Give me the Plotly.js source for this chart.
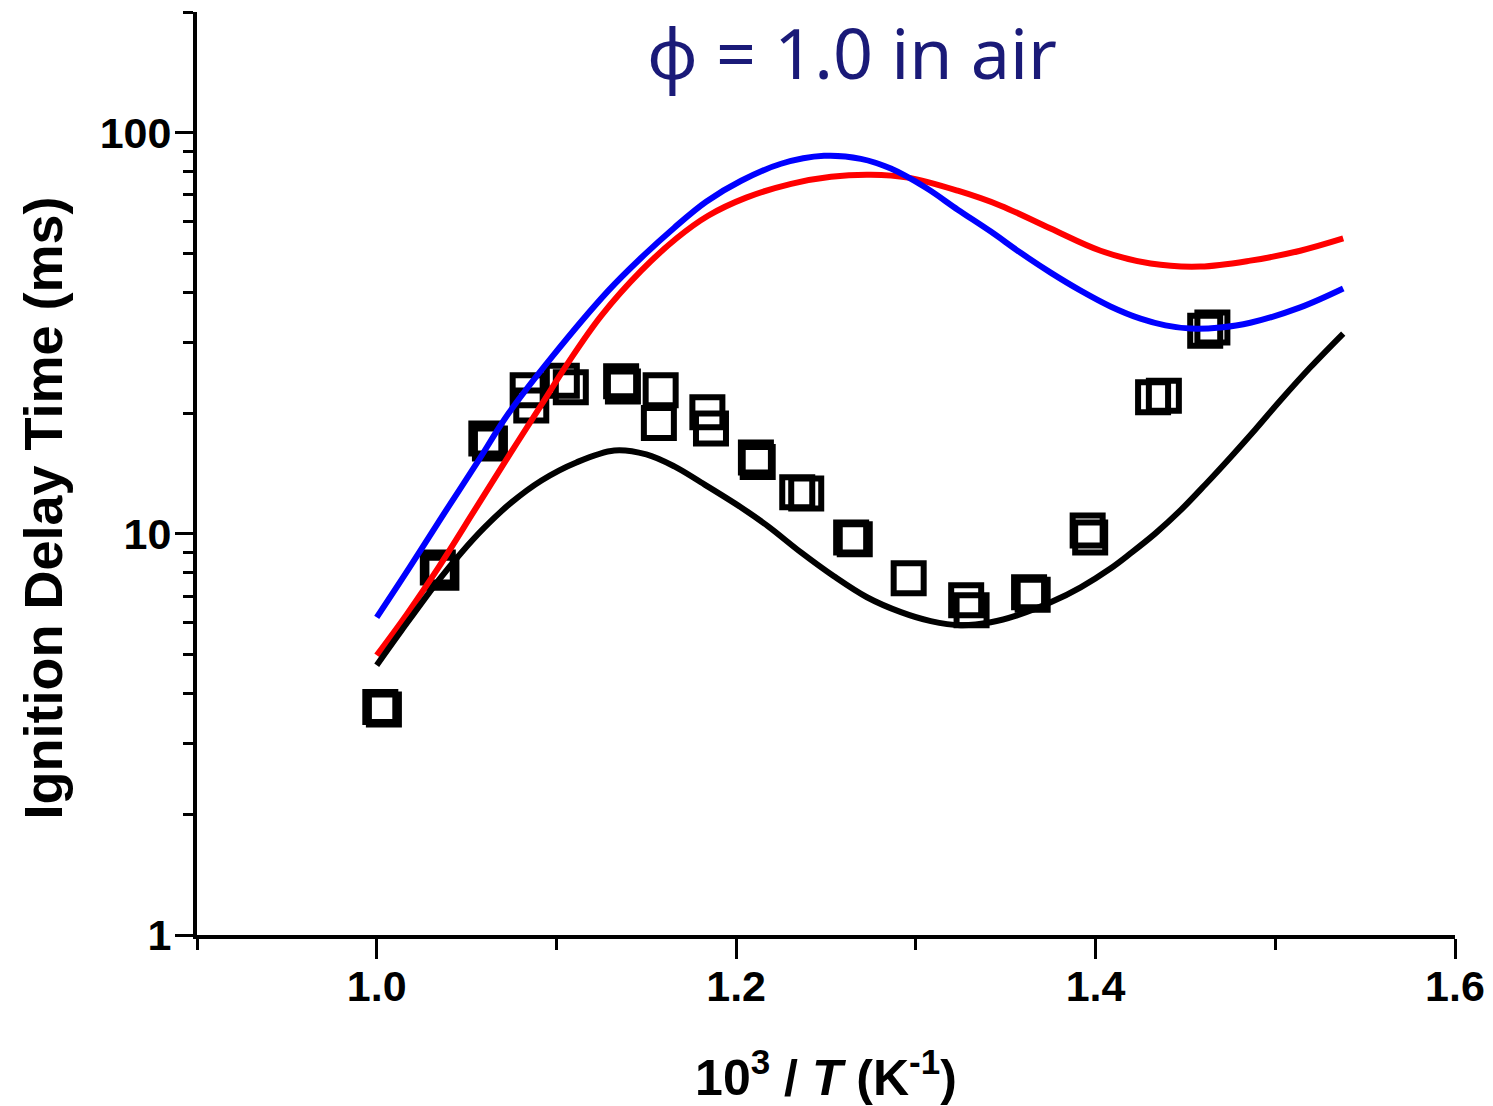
<!DOCTYPE html>
<html>
<head>
<meta charset="utf-8">
<script src="https://cdn.plot.ly/plotly-3.0.1.min.js"></script>
<style>html,body{margin:0;padding:0;background:#fff;}#chart{width:1493px;height:1106px;}</style>
</head>
<body>
<div id="chart"></div>
<script>
// Experimental data (10^3/T, ignition delay in ms)
const expX = [1.002, 1.004, 1.034, 1.036, 1.061, 1.063, 1.084, 1.086, 1.103, 1.108, 1.136, 1.137, 1.158, 1.157, 1.184, 1.186, 1.211, 1.212, 1.234, 1.239, 1.264, 1.266, 1.296, 1.328, 1.331, 1.363, 1.365, 1.3956, 1.397, 1.432, 1.438, 1.461, 1.465];
const expY = [3.70, 3.65, 8.25, 8.0, 17.3, 16.8, 22.8, 20.9, 24.1, 23.2, 24.0, 23.3, 22.8, 18.9, 20.1, 18.3, 15.5, 15.1, 12.7, 12.6, 9.80, 9.70, 7.75, 6.83, 6.45, 7.15, 7.05, 10.2, 9.80, 21.9, 22.1, 32.1, 32.7];

// Model curve 1 (black)
const blackX = [1.000, 1.0139, 1.0344, 1.0472, 1.060, 1.075, 1.0917, 1.1111, 1.1322, 1.150, 1.1656, 1.1806, 1.2028, 1.2178, 1.2361, 1.2544, 1.2728, 1.2917, 1.3083, 1.325, 1.3417, 1.3567, 1.375, 1.3917, 1.4083, 1.4194, 1.4333, 1.4472, 1.4611, 1.475, 1.4889, 1.5028, 1.5194, 1.5378];
const blackY = [4.705, 5.75, 7.66, 8.99, 10.38, 11.98, 13.59, 15.07, 16.14, 15.78, 14.73, 13.43, 11.64, 10.44, 8.99, 7.84, 6.95, 6.38, 6.06, 5.92, 6.02, 6.27, 6.75, 7.36, 8.20, 8.94, 10.03, 11.44, 13.28, 15.51, 18.21, 21.50, 25.98, 31.58];

// Model curve 2 (blue)
const blueX = [1.000, 1.0183, 1.0361, 1.0556, 1.0733, 1.0972, 1.1289, 1.1472, 1.1656, 1.1833, 1.2028, 1.225, 1.2489, 1.2694, 1.2861, 1.3056, 1.3233, 1.3417, 1.3583, 1.375, 1.3917, 1.4083, 1.425, 1.4389, 1.4528, 1.4694, 1.4861, 1.5139, 1.5378];
const blueY = [6.19, 8.25, 11.0, 14.98, 19.95, 27.5, 40.4, 48.8, 58.0, 67.3, 75.9, 83.7, 87.6, 86.1, 81.4, 72.9, 64.3, 56.7, 50.2, 44.8, 40.4, 36.9, 34.4, 33.1, 32.5, 32.7, 33.6, 36.7, 40.9];

// Model curve 3 (red)
const redX = [1.000, 1.0167, 1.0344, 1.0544, 1.0733, 1.0917, 1.1072, 1.125, 1.1472, 1.1667, 1.1844, 1.2056, 1.2306, 1.2528, 1.275, 1.2956, 1.3233, 1.3472, 1.375, 1.4028, 1.4306, 1.4583, 1.4861, 1.5139, 1.5378];
const redY = [4.98, 6.30, 8.25, 11.44, 15.6, 21.0, 27.0, 35.0, 45.3, 54.5, 62.1, 68.9, 74.6, 77.7, 78.6, 77.3, 71.7, 65.8, 57.7, 50.8, 47.2, 46.4, 48.0, 50.8, 54.5];

// Tick labels
const xTickVals = [1.0, 1.2, 1.4, 1.6];
const xTickText = ['1.0', '1.2', '1.4', '1.6'];
const xMinorVals = [0.9, 1.1, 1.3, 1.5];
const yTickVals = [1, 10, 100];
const yTickText = ['1', '10', '100'];
const yMinorVals = [2, 3, 4, 5, 6, 7, 8, 9, 20, 30, 40, 50, 60, 70, 80, 90, 200];

const traces = [
  {x: expX, y: expY, mode: 'markers', marker: {symbol: 'square-open', size: 30, color: '#000000', line: {color: '#000000', width: 6}}, showlegend: false},
  {x: redX, y: redY, mode: 'lines', line: {color: '#ff0000', width: 6, shape: 'spline', smoothing: 1}, showlegend: false},
  {x: blueX, y: blueY, mode: 'lines', line: {color: '#0000ff', width: 6, shape: 'spline', smoothing: 1}, showlegend: false},
  {x: blackX, y: blackY, mode: 'lines', line: {color: '#000000', width: 6, shape: 'spline', smoothing: 1}, showlegend: false}
];

const tickFont = {family: 'Liberation Sans, Arial, sans-serif', size: 43, color: '#000', weight: 'bold'};

const layout = {
  width: 1493, height: 1106,
  margin: {l: 197, r: 38, t: 12, b: 171},
  paper_bgcolor: '#fff', plot_bgcolor: '#fff',
  showlegend: false,
  xaxis: {
    range: [0.9, 1.6],
    showgrid: false, zeroline: false,
    showline: true, linecolor: '#000', linewidth: 4,
    ticks: 'outside', ticklen: 20, tickwidth: 3, tickcolor: '#000',
    tickmode: 'array', tickvals: xTickVals, ticktext: xTickText,
    minor: {tickmode: 'array', tickvals: xMinorVals, ticks: 'outside', ticklen: 11, tickwidth: 3, tickcolor: '#000', showgrid: false},
    tickfont: tickFont,
    ticklabelstandoff: -10,
    title: {text: '10<sup>3</sup> / <i>T</i> (K<sup>-1</sup>)', font: {family: 'Liberation Sans, Arial, sans-serif', size: 50, color: '#000', weight: 'bold'}, standoff: 52}
  },
  yaxis: {
    type: 'log',
    range: [0, Math.log10(200)],
    showgrid: false, zeroline: false,
    showline: true, linecolor: '#000', linewidth: 4,
    ticks: 'outside', ticklen: 18, tickwidth: 3, tickcolor: '#000',
    tickmode: 'array', tickvals: yTickVals, ticktext: yTickText,
    minor: {tickmode: 'array', tickvals: yMinorVals, ticks: 'outside', ticklen: 10, tickwidth: 3, tickcolor: '#000', showgrid: false},
    tickfont: tickFont,
    ticklabelstandoff: -5
  },
  annotations: [
    {
      text: 'ϕ = 1.0 in air',
      xref: 'paper', yref: 'paper', x: 0.5206, y: 0.957,
      xanchor: 'center', yanchor: 'middle', showarrow: false,
      font: {family: 'Noto Sans, Open Sans, sans-serif', size: 70, color: '#1a1a78'}
    },
    {
      text: 'Ignition Delay Time (ms)',
      xref: 'paper', yref: 'paper', x: -0.1225, y: 0.463,
      xanchor: 'center', yanchor: 'middle', showarrow: false, textangle: -90,
      font: {family: 'Liberation Sans, Arial, sans-serif', size: 54, color: '#000', weight: 'bold'}
    }
  ]
};

Plotly.newPlot('chart', traces, layout, {displayModeBar: false, staticPlot: true});
</script>
</body>
</html>
